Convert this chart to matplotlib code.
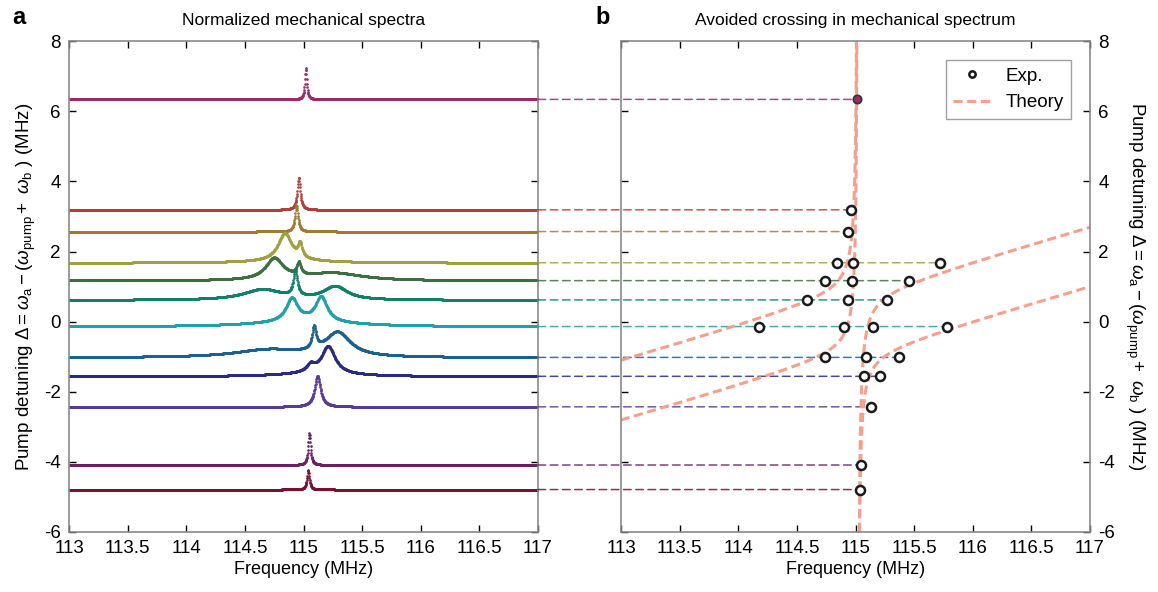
import numpy as np
import matplotlib
matplotlib.use('Agg')
from matplotlib import pyplot as plt
from matplotlib.patches import ConnectionPatch
from matplotlib.ticker import FuncFormatter

plt.rcParams['font.family'] = ['Liberation Sans', 'DejaVu Sans']
plt.rcParams['mathtext.fontset'] = 'custom'
plt.rcParams['mathtext.rm'] = 'Liberation Sans'
plt.rcParams['mathtext.it'] = 'Liberation Sans:italic'
plt.rcParams['axes.unicode_minus'] = False

# detuning (MHz) of each measured spectrum, top to bottom
detuning = [6.34, 3.19, 2.57, 1.68, 1.17, 0.62, -0.14, -1.02, -1.56, -2.43, -4.09, -4.79]

trace_colors = ['#9B2A6A', '#B0403A', '#A07A32', '#A0A040', '#3C7040', '#108068',
                '#20A0A8', '#1A6090', '#2A2A80', '#5A3A98', '#6A2060', '#7A1030']

# peaks of each normalized spectrum: (centre MHz, height, half width MHz)
peaks = [
    [(115.02, 0.90, 0.010)],
    [(114.96, 0.92, 0.015)],
    [(114.94, 0.76, 0.015)],
    [(114.84, 0.78, 0.07), (114.97, 0.40, 0.02), (114.9, 0.06, 0.4)],
    [(114.75, 0.60, 0.09), (114.96, 0.35, 0.02), (115.25, 0.22, 0.3)],
    [(114.93, 0.74, 0.02), (114.65, 0.30, 0.2), (115.27, 0.38, 0.12)],
    [(114.90, 0.65, 0.06), (115.15, 0.70, 0.06), (115.0, 0.15, 0.5)],
    [(115.09, 0.62, 0.02), (115.29, 0.68, 0.13), (114.70, 0.22, 0.35)],
    [(115.21, 0.78, 0.07), (115.06, 0.20, 0.04), (115.1, 0.08, 0.4)],
    [(115.12, 0.88, 0.03)],
    [(115.05, 0.90, 0.012)],
    [(115.04, 0.55, 0.012)],
]

# measured peak frequencies (MHz) for each detuning
exp_freqs = [
    [115.01],
    [114.96],
    [114.94],
    [114.84, 114.98, 115.72],
    [114.74, 114.97, 115.46],
    [114.59, 114.94, 115.27],
    [114.18, 114.90, 115.15, 115.78],
    [114.74, 115.09, 115.37],
    [115.07, 115.21],
    [115.13],
    [115.05],
    [115.04],
]

# theory: mechanical mode crossing two tilted modes
f_mech = 115.02
slope = 0.97
f_cross = [114.18, 115.93]
coupling = [0.30, 0.28]

freq = np.linspace(113, 117, 1601)
fig = plt.figure(figsize=(11.58, 5.92), dpi=100)
ax1 = fig.add_axes([0.0596, 0.1014, 0.405, 0.829])
ax2 = fig.add_axes([0.5363, 0.1014, 0.405, 0.829])

for d, pk, c in zip(detuning, peaks, trace_colors):
    y = np.full_like(freq, d)
    for f0, h, w in pk:
        y += h / (1 + ((freq - f0) / w) ** 2)
    ax1.plot(freq, y, 'o', ms=1.9, mew=0, color=c)

dd = np.linspace(-6, 8, 3000)
for k, (fc, g) in enumerate(zip(f_cross, coupling)):
    fs = fc + dd / slope
    mid = (f_mech + fs) / 2
    half = np.sqrt(((f_mech - fs) / 2) ** 2 + g ** 2)
    for sgn in (-1, 1):
        ax2.plot(mid + sgn * half, dd, '--', color='#F6A08C', lw=2.2, dashes=(3, 1.5),
                 label='Theory' if (k == 0 and sgn == -1) else None, zorder=2)

for i, (d, fr, c) in enumerate(zip(detuning, exp_freqs, trace_colors)):
    con = ConnectionPatch(xyA=(117, d), coordsA=ax1.transData,
                          xyB=(max(fr), d), coordsB=ax2.transData,
                          linestyle=(0, (5, 3)), color=c, lw=1.1, alpha=0.85)
    con.set_clip_on(False)
    con.set_zorder(1)
    ax2.add_artist(con)
    if i == 0:
        ax2.plot(fr, [d] * len(fr), 'o', ms=6, mfc=c, mec='#333333', mew=1.2, zorder=4)
    else:
        ax2.plot(fr, [d] * len(fr), 'o', ms=6.5, mfc='white', mec='#1a1a1a', mew=1.8, zorder=4,
                 label='Exp.' if i == 1 else None)

fmt = FuncFormatter(lambda v, p: '%g' % v)
for ax in (ax1, ax2):
    ax.set_xlim(113, 117)
    ax.set_ylim(-6, 8)
    ax.set_xticks(np.arange(113, 117.01, 0.5))
    ax.set_yticks(np.arange(-6, 8.01, 2))
    ax.xaxis.set_major_formatter(fmt)
    ax.yaxis.set_major_formatter(fmt)
    ax.tick_params(direction='in', length=5, width=1, top=True, right=True,
                   labelsize=13.5, color='k', pad=6)
    for s in ax.spines.values():
        s.set_color('#8a8a8a')
        s.set_linewidth(1.2)
    ax.set_xlabel('Frequency (MHz)', fontsize=13, labelpad=3)

ylab = r'Pump detuning $\Delta = \omega_{\rm a} - (\omega_{\rm pump} + \ \omega_{\rm b}\ )$ (MHz)'
ax1.set_ylabel(ylab, fontsize=13.5, labelpad=4)
ax2.yaxis.tick_right()
ax2.tick_params(left=True, labelleft=False, labelright=True)
ax2.yaxis.set_label_position('right')
ax2.set_ylabel(ylab, fontsize=13.5, rotation=-90, labelpad=22)

ax1.set_title('Normalized mechanical spectra', fontsize=12.5, pad=12)
ax2.set_title('Avoided crossing in mechanical spectrum', fontsize=12.5, pad=12)
fig.text(0.011, 0.971, 'a', fontsize=17, fontweight='bold', va='center')
fig.text(0.514, 0.971, 'b', fontsize=17, fontweight='bold', va='center')

h, l = ax2.get_legend_handles_labels()
order = [l.index('Exp.'), l.index('Theory')]
leg = ax2.legend([h[i] for i in order], [l[i] for i in order], loc='upper right',
                 fontsize=13.5, fancybox=False, edgecolor='#8a8a8a', borderaxespad=1.0,
                 handlelength=2.0, markerscale=0.7)
leg.get_frame().set_linewidth(1.0)

fig.savefig('out.png', dpi=100)
